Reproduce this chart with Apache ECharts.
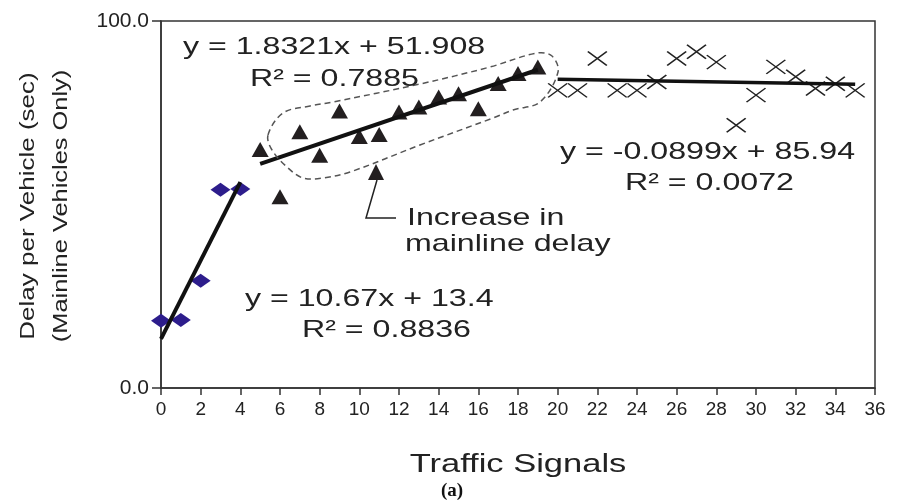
<!DOCTYPE html>
<html><head><meta charset="utf-8">
<script src="https://cdn.jsdelivr.net/npm/echarts@6/dist/echarts.min.js"></script>
<style>html,body{margin:0;padding:0;background:#fff}#c{width:899px;height:504px}</style>
</head><body><div id="c"></div>
<script>
// ---- data ----
const xTicks = [0,2,4,6,8,10,12,14,16,18,20,22,24,26,28,30,32,34,36];
const yTicks = [0.0, 100.0];
const signalsDiamond = [0,1,2,3,4];
const delayDiamond   = [18.3,18.5,29.2,54.0,54.2];
const signalsTriangle = [5,6,7,8,9,10,11,12,13,14,15,16,17,18,19];
const delayTriangle   = [65.0,52.1,69.8,63.4,75.5,68.5,69.1,75.2,76.6,79.3,80.2,76.1,83.0,85.7,87.5];
const signalsCross = [20,21,22,23,24,25,26,27,28,29,30,31,32,33,34,35];
const delayCross   = [81.1,81.1,89.8,81.1,81.1,83.4,89.8,91.6,88.8,71.6,79.8,87.5,84.8,81.6,82.9,81.1];
// trend line end points (from fitted equations shown on the chart)
const trendDiamondX = [0,4];    const trendDiamondY = [13.4,56.08];
const trendTriangleX = [5,19];  const trendTriangleY = [61.07,86.72];
const trendCrossX = [20,35];    const trendCrossY = [84.14,82.79];
const eqTexts = {
  a1:'y = 10.67x + 13.4', a2:'R² = 0.8836',
  b1:'y = 1.8321x + 51.908', b2:'R² = 0.7885',
  c1:'y = -0.0899x + 85.94', c2:'R² = 0.0072'
};
const zip = (xs,ys)=>xs.map((x,i)=>[x,ys[i]]);

const chart = echarts.init(document.getElementById('c'), null, {renderer:'canvas'});
const FONT = '"Liberation Sans", Arial, sans-serif';
const SX = 1.34;
function txt(text, x, y, size, align, sx){
  return {type:'text', x:x, y:y, scaleX:sx||SX, z:100,
    style:{text:text, font: size+'px '+FONT, fill:'#222', textAlign:align||'left', textVerticalAlign:'middle'}};
}
const option = {
  animation:false,
  backgroundColor:'#fff',
  grid:{left:161,right:24,top:21,bottom:116,show:true,borderColor:'#333',borderWidth:1.5,backgroundColor:'transparent'},
  xAxis:{type:'value',min:0,max:36,interval:2,
    axisLine:{show:true,onZero:false,lineStyle:{color:'#333',width:1.5}},
    axisTick:{show:true,length:7,lineStyle:{color:'#333',width:1.5}},
    axisLabel:{fontSize:19,fontFamily:FONT,color:'#222',margin:12,
      formatter:v=>xTicks.includes(v)?String(v):''},
    splitLine:{show:false}},
  yAxis:{type:'value',min:0,max:100,interval:100,
    axisLine:{show:true,lineStyle:{color:'#333',width:1.5}},
    axisTick:{show:true,length:9,lineStyle:{color:'#333',width:1.5}},
    axisLabel:{fontSize:21,fontFamily:FONT,color:'#222',margin:12,
      formatter:v=>{const t=yTicks.find(k=>k===v);return t===undefined?'':t.toFixed(1);}},
    splitLine:{show:false}},
  series:[
    {type:'line',data:zip(trendDiamondX,trendDiamondY),symbol:'none',lineStyle:{color:'#111',width:4},z:3},
    {type:'line',data:zip(trendTriangleX,trendTriangleY),symbol:'none',lineStyle:{color:'#111',width:4},z:3},
    {type:'line',data:zip(trendCrossX,trendCrossY),symbol:'none',lineStyle:{color:'#111',width:3.5},z:3},
    {type:'scatter',data:zip(signalsDiamond,delayDiamond),symbol:'diamond',symbolSize:[20,14],
      itemStyle:{color:'#2d1d8c',opacity:1},z:2},
    {type:'scatter',data:zip(signalsTriangle,delayTriangle),symbol:'triangle',symbolSize:[17,15],
      itemStyle:{color:'#231f20',opacity:1},z:2},
    {type:'scatter',data:zip(signalsCross,delayCross),symbol:'path://M0,0L10,10M10,0L0,10',symbolSize:[19,14],
      itemStyle:{color:'none',borderColor:'#222',borderWidth:1.5,opacity:1},z:2}
  ],
  graphic:[
    txt(eqTexts.b1,183,47,24),
    txt(eqTexts.b2,250,79,24),
    txt(eqTexts.c1,560,152,24),
    txt(eqTexts.c2,625,183,24),
    txt(eqTexts.a1,245,299,24),
    txt(eqTexts.a2,302,330,24),
    txt('Increase in',407,218,24),
    txt('mainline delay',405,244,24),
    txt('Traffic Signals',518,465,25,'center',1.38),
    {type:'text',x:452,y:491,z:100,style:{text:'(a)',font:'bold 19px "Liberation Serif", "Times New Roman", serif',fill:'#111',textAlign:'center',textVerticalAlign:'middle'}},
    {type:'text',x:28,y:206,rotation:Math.PI/2,scaleX:1.3,z:100,
      style:{text:'Delay per Vehicle (sec)',font:'20px '+FONT,fill:'#222',textAlign:'center',textVerticalAlign:'middle'}},
    {type:'text',x:61,y:206,rotation:Math.PI/2,scaleX:1.27,z:100,
      style:{text:'(Mainline Vehicles Only)',font:'20px '+FONT,fill:'#222',textAlign:'center',textVerticalAlign:'middle'}},
    {type:'polygon',z:90,shape:{smooth:0.35,points:[[268,135],[283,113],[310,106],[333,102],[420,84],[490,67],[537,53],[552,56],[558,72],[540,102],[513,110],[493,118],[420,145],[350,172],[323,178],[303,178],[287,167],[272,150]]},
      style:{fill:'none',stroke:'#555',lineWidth:1.5,lineDash:[6,4]}},
    {type:'polyline',z:90,shape:{points:[[377,180],[366,218],[396,218]]},style:{fill:'none',stroke:'#222',lineWidth:1.5}},
    {type:'polygon',z:90,shape:{points:[[376,164],[368,180],[384,180]]},style:{fill:'#231f20'}}
  ]
};
chart.setOption(option);
</script></body></html>
